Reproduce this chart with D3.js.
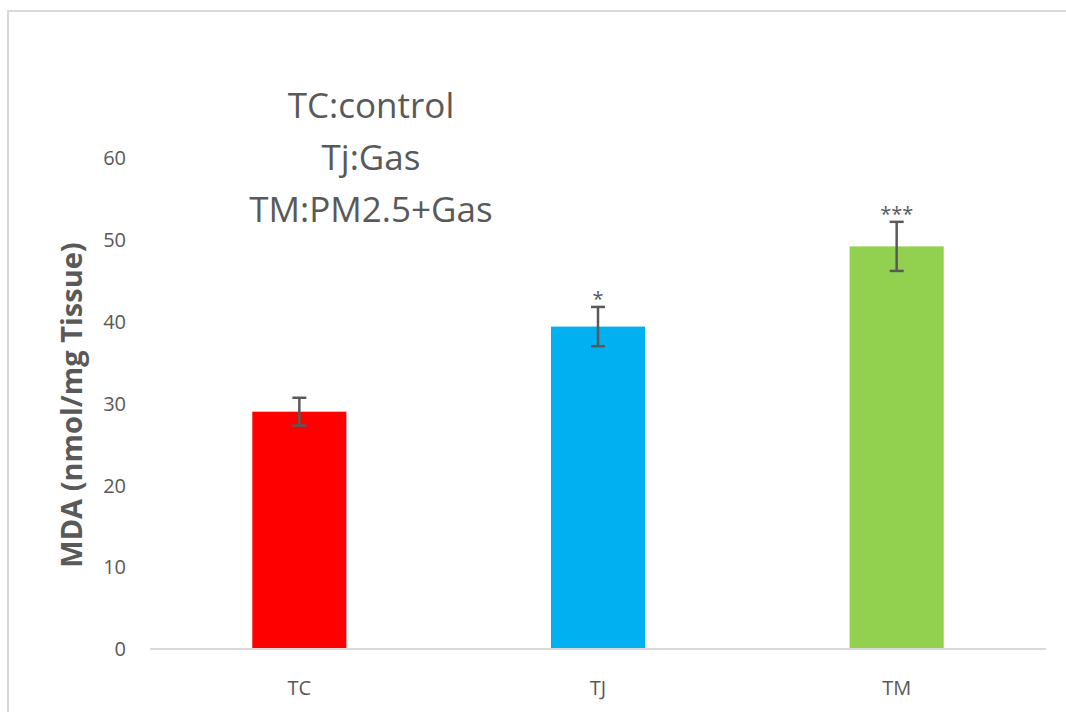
<!DOCTYPE html>
<html><head><meta charset="utf-8">
<script src="https://cdn.jsdelivr.net/npm/d3@7"></script>
<style>html,body{margin:0;padding:0;background:#fff;}svg{display:block;}</style>
</head><body>
<svg id="c" width="1066" height="712"></svg>
<script>
const categories = ["TC", "TJ", "TM"];
const values = [29.0, 39.4, 49.2];
const errors = [1.7, 2.4, 3.0];
const marks = ["", "*", "***"];
const colors = ["#ff0000", "#00b0f0", "#92d050"];
const yTicks = [0, 10, 20, 30, 40, 50, 60];
const legendLines = ["TC:control", "Tj:Gas", "TM:PM2.5+Gas"];
const yTitle = "MDA (nmol/mg Tissue)";

const svg = d3.select("#c");
const font = "'Open Sans', 'Noto Sans', sans-serif";
const textCol = "#595959";

// frame
svg.append("rect").attr("x", 8).attr("y", 11).attr("width", 1100).attr("height", 760)
  .attr("fill", "none").attr("stroke", "#d9d9d9").attr("stroke-width", 2);

const x = d3.scaleBand().domain(categories).range([150, 1046]).paddingInner(0.685).paddingOuter(0.3425);
const y = d3.scaleLinear().domain([0, 60]).range([649, 158]);

// y tick labels
svg.append("g").selectAll("text").data(yTicks).join("text")
  .attr("x", 126).attr("y", d => y(d)).attr("dy", "0.36em")
  .attr("text-anchor", "end").attr("font-family", font).attr("font-size", 20)
  .attr("fill", textCol).text(d => d);

// bars
svg.append("g").selectAll("rect").data(categories).join("rect")
  .attr("x", d => x(d)).attr("width", x.bandwidth())
  .attr("y", (d, i) => y(values[i])).attr("height", (d, i) => y(0) - y(values[i]))
  .attr("fill", (d, i) => colors[i]);

// axis line
svg.append("line").attr("x1", 150).attr("x2", 1046).attr("y1", y(0)).attr("y2", y(0))
  .attr("stroke", "#d9d9d9").attr("stroke-width", 2);

// error bars
const eg = svg.append("g").attr("stroke", "#595959").attr("stroke-width", 2.5);
categories.forEach((c, i) => {
  const cx = x(c) + x.bandwidth() / 2;
  const top = y(values[i] + errors[i]), bot = y(values[i] - errors[i]);
  eg.append("line").attr("x1", cx).attr("x2", cx).attr("y1", top).attr("y2", bot);
  eg.append("line").attr("x1", cx - 7).attr("x2", cx + 7).attr("y1", top).attr("y2", top);
  eg.append("line").attr("x1", cx - 7).attr("x2", cx + 7).attr("y1", bot).attr("y2", bot);
  if (marks[i]) {
    svg.append("text").attr("x", cx).attr("y", top - 1).attr("text-anchor", "middle")
      .attr("font-family", font).attr("font-size", 20).attr("fill", textCol).text(marks[i]);
  }
});

// category labels
svg.append("g").selectAll("text").data(categories).join("text")
  .attr("x", d => x(d) + x.bandwidth() / 2).attr("y", 695)
  .attr("text-anchor", "middle").attr("font-family", font).attr("font-size", 20)
  .attr("fill", textCol).text(d => d);

// legend text
svg.append("g").selectAll("text").data(legendLines).join("text")
  .attr("x", 371).attr("y", (d, i) => 118 + i * 52)
  .attr("text-anchor", "middle").attr("font-family", font).attr("font-size", 35)
  .attr("fill", textCol).text(d => d);

// y title
svg.append("text").attr("transform", "translate(82,405) rotate(-90)")
  .attr("text-anchor", "middle").attr("font-family", font).attr("font-size", 29)
  .attr("font-weight", "bold").attr("fill", textCol).text(yTitle);
</script>
</body></html>
